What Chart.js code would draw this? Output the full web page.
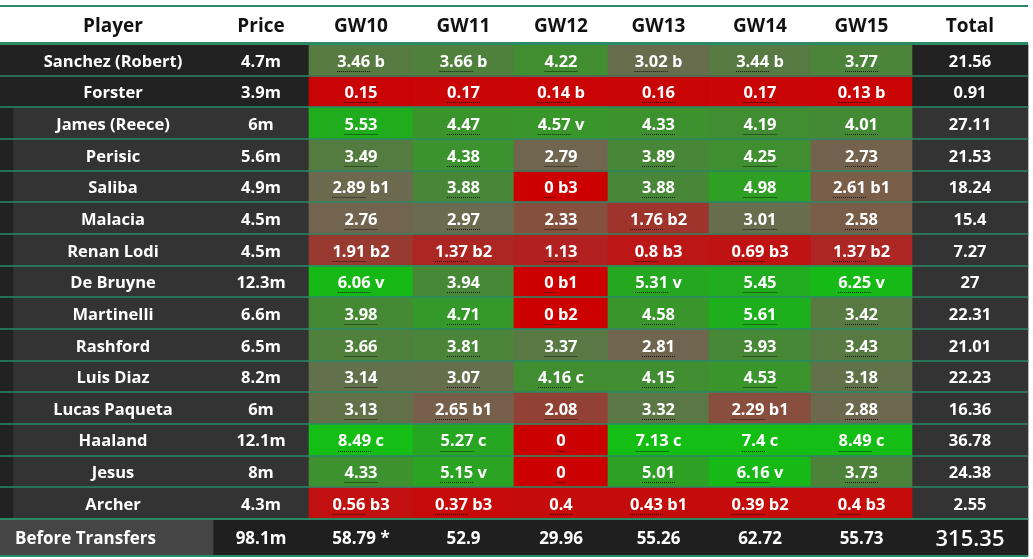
<!DOCTYPE html>
<html><head><meta charset="utf-8">
<script src="https://cdn.jsdelivr.net/npm/chart.js@4.4.1/dist/chart.umd.min.js"></script>
<style>html,body{margin:0;padding:0;background:#fff}#wrap{width:1033px;height:559px;position:relative}</style>
</head><body><div id="wrap"><canvas id="c"></canvas></div>
<script>
// ---------- DATA ----------
const columns = ["Player", "Price", "GW10", "GW11", "GW12", "GW13", "GW14", "GW15", "Total"];
const players = ["Sanchez (Robert)", "Forster", "James (Reece)", "Perisic", "Saliba", "Malacia", "Renan Lodi", "De Bruyne", "Martinelli", "Rashford", "Luis Diaz", "Lucas Paqueta", "Haaland", "Jesus", "Archer"];
const prices = ["4.7m", "3.9m", "6m", "5.6m", "4.9m", "4.5m", "4.5m", "12.3m", "6.6m", "6.5m", "8.2m", "6m", "12.1m", "8m", "4.3m"];
const gw10 = [3.46, 0.15, 5.53, 3.49, 2.89, 2.76, 1.91, 6.06, 3.98, 3.66, 3.14, 3.13, 8.49, 4.33, 0.56];
const gw10Tags = ["b", "", "", "", "b1", "", "b2", "v", "", "", "", "", "c", "", "b3"];
const gw11 = [3.66, 0.17, 4.47, 4.38, 3.88, 2.97, 1.37, 3.94, 4.71, 3.81, 3.07, 2.65, 5.27, 5.15, 0.37];
const gw11Tags = ["b", "", "", "", "", "", "b2", "", "", "", "", "b1", "c", "v", "b3"];
const gw12 = [4.22, 0.14, 4.57, 2.79, 0, 2.33, 1.13, 0, 0, 3.37, 4.16, 2.08, 0, 0, 0.4];
const gw12Tags = ["", "b", "v", "", "b3", "", "", "b1", "b2", "", "c", "", "", "", ""];
const gw13 = [3.02, 0.16, 4.33, 3.89, 3.88, 1.76, 0.8, 5.31, 4.58, 2.81, 4.15, 3.32, 7.13, 5.01, 0.43];
const gw13Tags = ["b", "", "", "", "", "b2", "b3", "v", "", "", "", "", "c", "", "b1"];
const gw14 = [3.44, 0.17, 4.19, 4.25, 4.98, 3.01, 0.69, 5.45, 5.61, 3.93, 4.53, 2.29, 7.4, 6.16, 0.39];
const gw14Tags = ["b", "", "", "", "", "", "b3", "", "", "", "", "b1", "c", "v", "b2"];
const gw15 = [3.77, 0.13, 4.01, 2.73, 2.61, 2.58, 1.37, 6.25, 3.42, 3.43, 3.18, 2.88, 8.49, 3.73, 0.4];
const gw15Tags = ["", "b", "", "", "b1", "", "b2", "v", "", "", "", "", "c", "", "b3"];
const totals = [21.56, 0.91, 27.11, 21.53, 18.24, 15.4, 7.27, 27, 22.31, 21.01, 22.23, 16.36, 36.78, 24.38, 2.55];
const darkRows = ["Sanchez (Robert)", "Forster"];
const footerLabel = "Before Transfers";
const footerPrice = "98.1m";
const footerGW = [58.79, 52.9, 29.96, 55.26, 62.72, 55.73];
const footerGWNotes = ["*", "", "", "", "", ""];
const footerTotal = 315.35;

// ---------- LAYOUT / STYLE ----------
const EDGES = [0, 213, 309, 413, 514, 608, 709, 811, 912, 1028]; // column boundaries (x-scale units)
const STRIP = 13;
const FOOTER_UNITS = 1.17;
const ROW_PX = 32, FOOTER_PX = 37;
const LINE = '#2a8a66';
const FONT = '"Open Sans", sans-serif';
const CELL_FONT = `700 16.5px ${FONT}`;
const STOPS = [
  [0, 204, 0, 0], [0.5, 196, 14, 14], [1, 182, 28, 28], [1.5, 168, 42, 38], [2, 150, 62, 50],
  [2.5, 126, 90, 70], [2.8, 112, 102, 80], [3.1, 100, 112, 76], [3.5, 84, 124, 64], [4, 68, 138, 52],
  [4.5, 58, 148, 44], [5, 46, 160, 36], [5.5, 32, 172, 30], [6, 22, 184, 22], [7, 20, 190, 20]
];
function cellColor(v) {
  if (v <= STOPS[0][0]) return `rgb(${STOPS[0][1]},${STOPS[0][2]},${STOPS[0][3]})`;
  for (let i = 1; i < STOPS.length; i++) {
    if (v <= STOPS[i][0]) {
      const a = STOPS[i - 1], b = STOPS[i], t = (v - a[0]) / (b[0] - a[0]);
      const c = k => Math.round(a[k] + (b[k] - a[k]) * t);
      return `rgb(${c(1)},${c(2)},${c(3)})`;
    }
  }
  const l = STOPS[STOPS.length - 1];
  return `rgb(${l[1]},${l[2]},${l[3]})`;
}
const rowY = players.map((_, i) => i + 0.5);
const footerY = players.length + FOOTER_UNITS / 2;
const isDark = p => darkRows.includes(p);

const gwValues = [gw10, gw11, gw12, gw13, gw14, gw15];
const gwTags = [gw10Tags, gw11Tags, gw12Tags, gw13Tags, gw14Tags, gw15Tags];

function span(c0, c1, y) { return { x: [EDGES[c0], EDGES[c1]], y }; }
const base = { type: 'bar', grouped: false, borderWidth: 0, borderSkipped: false, barThickness: ROW_PX };

const datasets = [];
// row backgrounds
datasets.push({ ...base, data: players.map((p, i) => ({ x: [isDark(p) ? EDGES[0] : STRIP, EDGES[9]], y: rowY[i] })),
  backgroundColor: players.map(p => isDark(p) ? '#222222' : '#333333') });
datasets.push({ ...base, data: players.map((p, i) => ({ x: [EDGES[0], STRIP], y: rowY[i] })), backgroundColor: '#222222' });
// player & price text cells
datasets.push({ ...base, data: players.map((p, i) => ({ x: [STRIP, EDGES[1]], y: rowY[i] })), backgroundColor: 'rgba(0,0,0,0)',
  texts: players, textFont: CELL_FONT });
datasets.push({ ...base, data: players.map((p, i) => span(1, 2, rowY[i])), backgroundColor: 'rgba(0,0,0,0)',
  texts: prices, textFont: CELL_FONT });
// GW cells
gwValues.forEach((vals, k) => {
  datasets.push({ ...base, data: vals.map((v, i) => span(2 + k, 3 + k, rowY[i])), backgroundColor: vals.map(cellColor),
    texts: vals.map(String), notes: gwTags[k], underline: true, textFont: CELL_FONT });
});
// totals
datasets.push({ ...base, data: totals.map((v, i) => span(8, 9, rowY[i])), backgroundColor: 'rgba(0,0,0,0)',
  texts: totals.map(String), textFont: CELL_FONT });
// footer
datasets.push({ ...base, barThickness: FOOTER_PX, data: [span(1, 9, footerY)], backgroundColor: '#1f1f1f' });
datasets.push({ ...base, barThickness: FOOTER_PX, data: [span(0, 1, footerY)], backgroundColor: '#454545',
  texts: [footerLabel], align: 'left', textFont: `700 17px ${FONT}` });
datasets.push({ ...base, barThickness: FOOTER_PX, data: [span(1, 2, footerY)], backgroundColor: 'rgba(0,0,0,0)',
  texts: [footerPrice], textFont: `700 17px ${FONT}` });
footerGW.forEach((v, k) => {
  datasets.push({ ...base, barThickness: FOOTER_PX, data: [span(2 + k, 3 + k, footerY)], backgroundColor: 'rgba(0,0,0,0)',
    texts: [String(v)], notes: [footerGWNotes[k]], textFont: `700 17px ${FONT}` });
});
datasets.push({ ...base, barThickness: FOOTER_PX, data: [span(8, 9, footerY)], backgroundColor: 'rgba(0,0,0,0)',
  texts: [String(footerTotal)], textFont: `600 22px ${FONT}` });
// later datasets paint over earlier ones
datasets.forEach((d, i) => { d.order = -i; });

const tablePlugin = {
  id: 'tablePlugin',
  beforeDraw(chart) {
    const { ctx } = chart;
    ctx.save();
    ctx.fillStyle = '#ffffff';
    ctx.fillRect(0, 0, chart.width, chart.height);
    ctx.restore();
  },
  afterDatasetsDraw(chart) {
    const { ctx, scales: { x, y } } = chart;
    ctx.save();
    // separators
    ctx.strokeStyle = LINE;
    const x0 = x.getPixelForValue(EDGES[0]), x1 = x.getPixelForValue(EDGES[9]);
    ctx.lineWidth = 1.5;
    for (let i = 1; i < players.length; i++) {
      const py = Math.round(y.getPixelForValue(i));
      ctx.beginPath(); ctx.moveTo(x0, py); ctx.lineTo(x1, py); ctx.stroke();
    }
    ctx.lineWidth = 2;
    [players.length, players.length + FOOTER_UNITS].forEach(v => {
      const py = Math.round(y.getPixelForValue(v));
      ctx.beginPath(); ctx.moveTo(x0, py); ctx.lineTo(x1, py); ctx.stroke();
    });
    ctx.lineWidth = 3;
    let py = y.getPixelForValue(0) - 0.5;
    ctx.beginPath(); ctx.moveTo(x0, py); ctx.lineTo(x1, py); ctx.stroke();
    ctx.lineWidth = 2;
    ctx.beginPath(); ctx.moveTo(x0, 6); ctx.lineTo(x1, 6); ctx.stroke();
    // header
    ctx.fillStyle = '#111111';
    ctx.font = `700 19px ${FONT}`;
    ctx.textAlign = 'center'; ctx.textBaseline = 'middle';
    const hy = (6 + y.getPixelForValue(0)) / 2 + 2;
    columns.forEach((c, k) => {
      const a = k === 0 ? STRIP : EDGES[k];
      const cx = (x.getPixelForValue(a) + x.getPixelForValue(EDGES[k + 1])) / 2;
      ctx.fillText(c, cx, hy);
    });
    // cell texts
    chart.data.datasets.forEach((ds, di) => {
      if (!ds.texts) return;
      const meta = chart.getDatasetMeta(di);
      meta.data.forEach((el, i) => {
        const txt = ds.texts[i];
        const note = ds.notes ? ds.notes[i] : '';
        const full = note ? txt + ' ' + note : txt;
        ctx.font = ds.textFont;
        ctx.fillStyle = '#ffffff';
        ctx.textBaseline = 'middle';
        const left = Math.min(el.x, el.base), right = Math.max(el.x, el.base);
        const cy = el.y + 2;
        if (ds.align === 'left') {
          ctx.textAlign = 'left';
          ctx.fillText(full, left + 15, cy);
          return;
        }
        ctx.textAlign = 'center';
        const cx = (left + right) / 2;
        ctx.fillText(full, cx, cy);
        if (ds.underline) {
          const w = ctx.measureText(full).width, nw = ctx.measureText(txt).width;
          const sx = cx - w / 2;
          ctx.save();
          ctx.strokeStyle = 'rgba(10,10,10,0.85)';
          ctx.lineWidth = 1;
          ctx.setLineDash([1, 1]);
          ctx.beginPath();
          ctx.moveTo(sx, Math.round(cy + 9) + 0.5);
          ctx.lineTo(sx + nw, Math.round(cy + 9) + 0.5);
          ctx.stroke();
          ctx.restore();
        }
      });
    });
    ctx.restore();
  }
};

new Chart(document.getElementById('c'), {
  type: 'bar',
  data: { datasets },
  options: {
    indexAxis: 'y',
    responsive: true,
    maintainAspectRatio: false,
    animation: false,
    layout: { padding: { top: 44, bottom: 3, left: 0, right: 0 } },
    plugins: { legend: { display: false }, tooltip: { enabled: false } },
    scales: {
      x: { type: 'linear', min: 0, max: 1033, display: false, offset: false },
      y: { type: 'linear', min: 0, max: players.length + FOOTER_UNITS, reverse: true, display: false, offset: false }
    }
  },
  plugins: [tablePlugin]
});
</script>
</body></html>
